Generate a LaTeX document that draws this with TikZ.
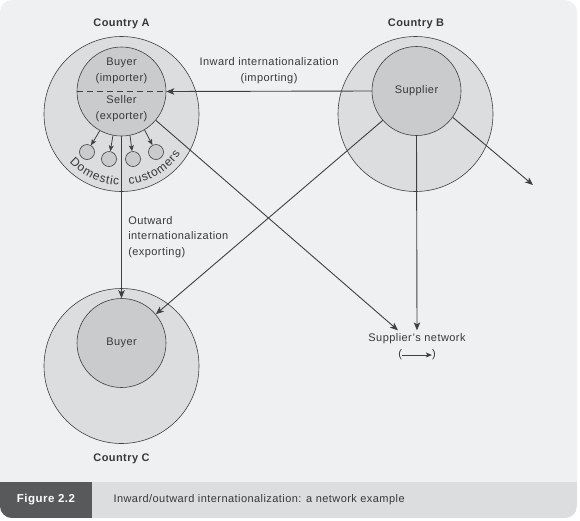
\documentclass[tikz,border=0pt]{standalone}
\usepackage{fontspec}
\setmainfont{Liberation Sans}[LetterSpace=4]
\usetikzlibrary{arrows.meta,decorations.text}
\definecolor{panelbg}{HTML}{EFF0F2}
\definecolor{outerfill}{HTML}{DCDDDF}
\definecolor{innerfill}{HTML}{CACBCD}
\definecolor{linecol}{HTML}{404042}
\definecolor{txt}{HTML}{38383A}
\definecolor{capbar}{HTML}{DCDDDF}
\definecolor{figbox}{HTML}{58595B}
\begin{document}
\begin{tikzpicture}[x=1pt,y=-1pt,
  every node/.style={font=\fontsize{11}{15.5}\selectfont,text=txt},
  country/.style={circle,draw=linecol,line width=0.6pt,fill=outerfill,minimum size=155pt,inner sep=0pt},
  firm/.style={circle,draw=linecol,line width=0.6pt,fill=innerfill,minimum size=89pt,inner sep=0pt},
  cust/.style={circle,draw=linecol,line width=0.6pt,fill=innerfill,minimum size=15pt,inner sep=0pt},
  title/.style={font=\fontsize{11}{13}\selectfont\bfseries},
  arr/.style={draw=linecol,line width=0.9pt,-{Stealth[length=8pt,width=6.5pt,inset=2pt]}},
  smallarr/.style={draw=linecol,line width=0.8pt,-{Stealth[length=6pt,width=5pt,inset=1.5pt]}}]
\useasboundingbox (0,0) rectangle (580,520);
% panel and caption
\fill[panelbg,rounded corners=12pt] (0,0) rectangle (577,518);
\begin{scope}
  \clip[rounded corners=12pt] (0,0) rectangle (577,518);
  \fill[capbar] (0,482) rectangle (577,518);
  \fill[figbox] (0,482) rectangle (92,518);
\end{scope}
\node[font=\fontsize{11.5}{13}\selectfont\bfseries,text=white] (fig) at (46,500) {Figure 2.2};
\node[anchor=west] (cap) at (110,500) {Inward/outward internationalization: a network example};
% countries
\node[country] (outA) at (121.5,114) {};
\node[firm] (inA) at (121.5,91.5) {};
\node[country] (outB) at (415.5,114) {};
\node[firm] (inB) at (416.5,91) {Supplier};
\node[country] (outC) at (121.5,366) {};
\node[firm] (inC) at (121.5,343) {Buyer};
\node[title] (tA) at (121.5,24) {Country A};
\node[title] (tB) at (416,24) {Country B};
\node[title] (tC) at (121.5,459) {Country C};
% buyer / seller in A
\draw[linecol,line width=0.8pt,dash pattern=on 6pt off 4pt] (inA.west) -- (inA.east);
\node[align=center] (buyA) at (121.5,71) {Buyer\\(importer)};
\node[align=center] (selA) at (121.5,108.5) {Seller\\(exporter)};
% domestic customers
\foreach \i/\x/\y in {1/87/152,2/109/159,3/133/159,4/156/152}
  \node[cust] (c\i) at (\x,\y) {};
\foreach \i/\a in {1/-119,2/-101,3/-79,4/-59}
  \draw[smallarr] (inA.\a) -- (c\i);
\path[decorate,decoration={text along path,text align=fit to path,
  text={|\fontsize{12}{14}\selectfont\color{txt}|Domestic{ }{ }customers}}]
  (121.5,114) ++(137:71) arc[start angle=137,end angle=34,radius=71];
% supplier's network
\node (net) at (417,339) {Supplier's network};
\node[inner sep=0pt] (dir) at (417,355) {(\hspace{30pt})};
\draw[smallarr] ([xshift=4pt]dir.west) -- ([xshift=-4pt]dir.east);
\coordinate (away) at (533,185);
% flows
\draw[arr] (inB.west) -- (inA.east)
  node[midway,above=4pt,align=center] {Inward internationalization\\(importing)};
\draw[arr] (inA.south) -- (inC.north)
  node[pos=0.62,right=3pt,align=left] {Outward\\internationalization\\(exporting)};
\draw[arr] (inA.-40) -- ([xshift=-19pt]net.north);
\draw[arr] (inB.south) -- (net.north);
\draw[arr] (inB.221) -- (inC.40);
\draw[arr] (inB.-36) -- (away);
\end{tikzpicture}
\end{document}
